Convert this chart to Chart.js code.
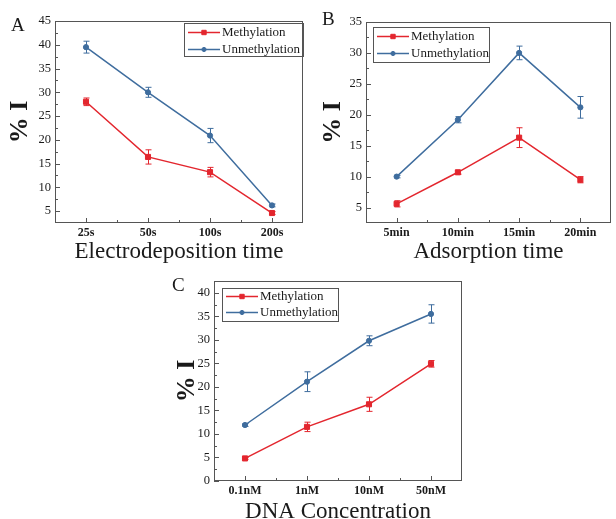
<!DOCTYPE html>
<html>
<head>
<meta charset="utf-8">
<script src="https://cdn.jsdelivr.net/npm/chart.js@4.4.1/dist/chart.umd.min.js"></script>
<style>
  html, body { margin: 0; padding: 0; background: #fff; width: 616px; height: 519px; overflow: hidden; position: relative; font-family: "Liberation Serif", serif; }
  canvas { position: absolute; }
  .tag { position: absolute; font-size: 19px; line-height: 1; color: #1a1a1a; }
</style>
</head>
<body>
<canvas id="chartA" width="308" height="268" style="left:0;top:0"></canvas>
<canvas id="chartB" width="308" height="268" style="left:308px;top:0"></canvas>
<canvas id="chartC" width="320" height="260" style="left:150px;top:268px"></canvas>
<div class="tag" style="left:11px;top:15px">A</div>
<div class="tag" style="left:322px;top:9px">B</div>
<div class="tag" style="left:172px;top:275px">C</div>

<script>
// --- Data ---
const seriesNames = ["Methylation", "Unmethylation"];

// A: electrodeposition time
const catsA = ["25s", "50s", "100s", "200s"];
const methA = [28.0, 16.4, 13.2, 4.6];
const methErrA = [0.8, 1.5, 1.0, 0.3];
const unmethA = [39.5, 30.0, 20.9, 6.2];
const unmethErrA = [1.25, 1.05, 1.5, 0.3];
const yTicksA = [5, 10, 15, 20, 25, 30, 35, 40, 45];

// B: adsorption time
const catsB = ["5min", "10min", "15min", "20min"];
const methB = [5.6, 10.7, 16.3, 9.5];
const methErrB = [0.5, 0.3, 1.6, 0.5];
const unmethB = [10.0, 19.2, 30.0, 21.2];
const unmethErrB = [0.2, 0.5, 1.1, 1.75];
const yTicksB = [5, 10, 15, 20, 25, 30, 35];

// C: DNA concentration
const catsC = ["0.1nM", "1nM", "10nM", "50nM"];
const methC = [4.8, 11.5, 16.3, 24.9];
const methErrC = [0.2, 1.0, 1.5, 0.7];
const unmethC = [11.9, 21.1, 29.8, 35.5];
const unmethErrC = [0.3, 2.1, 1.05, 1.95];
const yTicksC = [0, 5, 10, 15, 20, 25, 30, 35, 40];

const RED = "#e3262e";
const BLUE = "#3f6d9e";
const AXIS = "#555";
const TEXT = "#1a1a1a";
const SERIF = "'Liberation Serif', 'Times New Roman', serif";

// --- Plugins ---
// frame round the plot with inward major/minor ticks
const frameTicks = {
    id: "frameTicks",
    beforeDatasetsDraw(chart) {
        const { ctx, chartArea: a, scales: { x, y } } = chart;
        ctx.save();
        ctx.strokeStyle = AXIS;
        ctx.lineWidth = 1;
        ctx.strokeRect(Math.round(a.left) + 0.5, Math.round(a.top) + 0.5,
            Math.round(a.right - a.left) - 1, Math.round(a.bottom - a.top) - 1);
        ctx.beginPath();
        const yv = y.ticks.map((t) => t.value);
        const step = yv[1] - yv[0];
        const left = Math.round(a.left);
        yv.forEach((v) => {
            const p = Math.round(y.getPixelForValue(v)) + 0.5;
            ctx.moveTo(left, p);
            ctx.lineTo(left + 5, p);
        });
        for (let v = yv[0] - step / 2; v < y.max; v += step) {
            if (v <= y.min) continue;
            const p = Math.round(y.getPixelForValue(v)) + 0.5;
            ctx.moveTo(left, p);
            ctx.lineTo(left + 3, p);
        }
        const bottom = Math.round(a.bottom);
        for (let i = 0; i < x.ticks.length; i++) {
            const p = Math.round(x.getPixelForTick(i)) + 0.5;
            ctx.moveTo(p, bottom);
            ctx.lineTo(p, bottom - 5);
        }
        for (let i = 1; i < x.ticks.length; i++) {
            const p = Math.round(x.getPixelForValue(i - 0.5)) + 0.5;
            ctx.moveTo(p, bottom);
            ctx.lineTo(p, bottom - 3);
        }
        ctx.stroke();
        ctx.restore();
    },
};

// vertical error bars with caps
const errorBars = {
    id: "errorBars",
    afterDatasetsDraw(chart) {
        const { ctx, scales: { y } } = chart;
        ctx.save();
        chart.data.datasets.forEach((ds, i) => {
            const meta = chart.getDatasetMeta(i);
            ctx.strokeStyle = ds.borderColor;
            ctx.lineWidth = 1;
            ctx.beginPath();
            meta.data.forEach((pt, j) => {
                const e = ds.errors[j];
                const top = y.getPixelForValue(ds.data[j] + e);
                const bot = y.getPixelForValue(ds.data[j] - e);
                const px = Math.round(pt.x) + 0.5;
                ctx.moveTo(px, top);
                ctx.lineTo(px, bot);
                ctx.moveTo(px - 3, top);
                ctx.lineTo(px + 3, top);
                ctx.moveTo(px - 3, bot);
                ctx.lineTo(px + 3, bot);
            });
            ctx.stroke();
        });
        ctx.restore();
    },
};

// boxed legend inside the plot
const boxLegend = {
    id: "boxLegend",
    afterDraw(chart, args, opts) {
        const ctx = chart.ctx;
        ctx.save();
        ctx.strokeStyle = AXIS;
        ctx.lineWidth = 1;
        ctx.strokeRect(opts.x + 0.5, opts.y + 0.5, opts.w, opts.h);
        ctx.font = "13px " + SERIF;
        ctx.textBaseline = "middle";
        chart.data.datasets.forEach((ds, i) => {
            const cy = Math.round(opts.y + opts.first + i * opts.gap) + 0.5;
            ctx.strokeStyle = ds.borderColor;
            ctx.lineWidth = 1.5;
            ctx.beginPath();
            ctx.moveTo(opts.x + 4, cy);
            ctx.lineTo(opts.x + 36, cy);
            ctx.stroke();
            ctx.fillStyle = ds.backgroundColor;
            ctx.lineWidth = 1;
            Chart.helpers.drawPoint(ctx, { pointStyle: ds.pointStyle, radius: ds.pointRadius - 0.5, borderWidth: 1, rotation: 0 }, opts.x + 20, cy);
            ctx.fillStyle = TEXT;
            ctx.fillText(ds.label, opts.x + 38, cy);
        });
        ctx.restore();
    },
};

function makeChart(id, cats, meth, methErr, unmeth, unmethErr, yTicks, yMin, yMax, xTitle, geo) {
    const ctx = document.getElementById(id).getContext("2d");
    return new Chart(ctx, {
        type: "line",
        data: {
            labels: cats,
            datasets: [
                {
                    label: seriesNames[0],
                    data: meth,
                    errors: methErr,
                    borderColor: RED,
                    backgroundColor: RED,
                    borderWidth: 1.5,
                    pointStyle: "rect",
                    pointRadius: 3.6,
                    pointBorderWidth: 1,
                    tension: 0,
                },
                {
                    label: seriesNames[1],
                    data: unmeth,
                    errors: unmethErr,
                    borderColor: BLUE,
                    backgroundColor: BLUE,
                    borderWidth: 1.5,
                    pointStyle: "circle",
                    pointRadius: 2.6,
                    pointBorderWidth: 1,
                    tension: 0,
                },
            ],
        },
        options: {
            responsive: false,
            animation: false,
            devicePixelRatio: 1,
            layout: { padding: geo.padding },
            plugins: {
                legend: { display: false },
                tooltip: { enabled: false },
                boxLegend: geo.legend,
            },
            scales: {
                x: {
                    offset: true,
                    grid: { display: false, drawTicks: false },
                    border: { display: false },
                    ticks: { color: TEXT, font: { family: SERIF, size: 12, weight: "bold" }, padding: 3, maxRotation: 0 },
                    title: {
                        display: true,
                        text: xTitle,
                        color: TEXT,
                        font: { family: SERIF, size: 23, lineHeight: 1 },
                        padding: { top: 0, bottom: geo.xTitlePad },
                    },
                    afterFit: (s) => { s.height = geo.xHeight; },
                },
                y: {
                    min: yMin,
                    max: yMax,
                    grid: { display: false, drawTicks: false },
                    border: { display: false },
                    afterBuildTicks: (s) => { s.ticks = yTicks.map((v) => ({ value: v })); },
                    ticks: { color: TEXT, font: { family: SERIF, size: 12.5 }, padding: 4 },
                    title: {
                        display: true,
                        text: "% I",
                        color: TEXT,
                        font: { family: SERIF, size: 26, weight: "bold", lineHeight: 1 },
                        padding: { top: geo.yTitlePad, bottom: 0 },
                    },
                    afterFit: (s) => { s.width = geo.yWidth; },
                },
            },
        },
        plugins: [frameTicks, errorBars, boxLegend],
    });
}

document.addEventListener("DOMContentLoaded", () => {
    makeChart("chartA", catsA, methA, methErrA, unmethA, unmethErrA, yTicksA, 2.5, 45,
        "Electrodeposition time", {
            padding: { left: 0, right: 2, top: 21, bottom: 0 },
            yWidth: 55, xHeight: 45, xTitlePad: 5, yTitlePad: 7,
            legend: { x: 184, y: 23, w: 119, h: 33, first: 9, gap: 17 },
        });
    makeChart("chartB", catsB, methB, methErrB, unmethB, unmethErrB, yTicksB, 2.5, 35,
        "Adsorption time", {
            padding: { left: 0, right: 5, top: 22, bottom: 0 },
            yWidth: 58, xHeight: 45, xTitlePad: 5, yTitlePad: 12,
            legend: { x: 65, y: 27, w: 116, h: 35, first: 9, gap: 17 },
        });
    makeChart("chartC", catsC, methC, methErrC, unmethC, unmethErrC, yTicksC, 0, 42.5,
        "DNA Concentration", {
            padding: { left: 0, right: 8, top: 13, bottom: 0 },
            yWidth: 64, xHeight: 47, xTitlePad: 5, yTitlePad: 24,
            legend: { x: 72, y: 20, w: 116, h: 33, first: 8, gap: 16 },
        });
});
</script>
</body>
</html>
